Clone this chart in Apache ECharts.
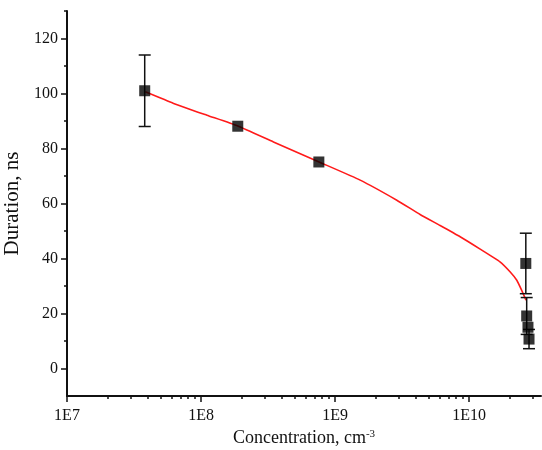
<!DOCTYPE html>
<html>
<head>
<meta charset="utf-8">
<script src="https://cdn.jsdelivr.net/npm/echarts@6/dist/echarts.min.js"></script>
<style>
  html, body { margin: 0; padding: 0; background: #fff; }
  #chart { width: 542px; height: 450px; }
</style>
</head>
<body>
<div id="chart"></div>
<script>
// measured points (concentration, duration, error)
const pointX = [3.8e7, 1.88e8, 7.57e8, 2.65e10, 2.69e10, 2.75e10, 2.80e10]
const pointY = [101, 88.1, 75.1, 38.2, 19.1, 15.0, 10.7]
const pointErr = [13, 0, 0, 11, 6.7, 0, 3.5]

// fitted curve
const fitX = [3.84e7, 6.24e7, 1.107e8, 1.88e8, 3.47e8, 7.6e8, 1.54e9, 2.89e9, 4.31e9, 6.08e9, 8.58e9, 1.21e10, 1.70e10, 2.02e10, 2.27e10, 2.47e10, 2.66e10]
const fitY = [100.6, 96.4, 92.1, 88.2, 82.4, 75.1, 68.5, 61.2, 56.0, 52.0, 47.9, 43.4, 38.8, 35.2, 32.1, 28.4, 24.8]

// axis ticks
const xMajor = [1e7, 1e8, 1e9, 1e10]
const xMinor = []
for (let e = 7; e <= 10; e++) {
  for (let k = 2; k <= 9; k++) {
    if (k * Math.pow(10, e) <= 3.44e10) xMinor.push(k * Math.pow(10, e))
  }
}
const yMajor = [0, 20, 40, 60, 80, 100, 120]
const yMinor = [10, 30, 50, 70, 90, 110, 130]

const font = "'Liberation Serif', 'Times New Roman', serif"
const black = '#111'

let chart = echarts.init(document.getElementById('chart'))

let points = pointX.map((x, i) => [x, pointY[i], pointErr[i]])
let fit = fitX.map((x, i) => [x, fitY[i]])

let xBase = {
  type: 'log',
  logBase: 10,
  min: 1e7,
  max: 3.44e10,
  position: 'bottom',
  splitLine: { show: false },
  axisLine: { onZero: false }
}
let yBase = {
  type: 'value',
  min: -10,
  max: 130,
  position: 'left',
  splitLine: { show: false },
  axisLine: { onZero: false }
}

let option = {
  animation: false,
  grid: { left: 67, right: 1, top: 11, bottom: 54, outerBoundsMode: 'none', containLabel: false },
  xAxis: [
    Object.assign({}, xBase, {
      name: '{a|Concentration, cm}{b|-3}',
      nameLocation: 'middle',
      nameGap: 28,
      nameTextStyle: {
        rich: {
          a: { fontFamily: font, fontSize: 18, color: black },
          b: { fontFamily: font, fontSize: 11, color: black, verticalAlign: 'top', padding: [0, 0, 8, 0] }
        }
      },
      axisLine: { onZero: false, lineStyle: { color: black, width: 2 } },
      axisTick: { show: true, length: 6, inside: false, customValues: xMajor, lineStyle: { color: black, width: 1.5 } },
      axisLabel: {
        customValues: xMajor,
        fontFamily: font, fontSize: 16, color: black, margin: 12,
        formatter: v => '1E' + Math.round(Math.log10(v))
      }
    }),
    Object.assign({}, xBase, {
      axisLine: { show: false, onZero: false },
      axisTick: { show: true, length: 3, customValues: xMinor, lineStyle: { color: black, width: 1.5 } },
      axisLabel: { show: false }
    })
  ],
  yAxis: [
    Object.assign({}, yBase, {
      name: 'Duration, ns',
      nameLocation: 'middle',
      nameGap: 38,
      nameTextStyle: { fontFamily: font, fontSize: 21, color: black },
      axisLine: { onZero: false, lineStyle: { color: black, width: 2 } },
      axisTick: { show: true, length: 6, customValues: yMajor, lineStyle: { color: black, width: 1.5 } },
      axisLabel: { customValues: yMajor, fontFamily: font, fontSize: 16, color: black, margin: 9 }
    }),
    Object.assign({}, yBase, {
      axisLine: { show: false, onZero: false },
      axisTick: { show: true, length: 3, customValues: yMinor, lineStyle: { color: black, width: 1.5 } },
      axisLabel: { show: false }
    })
  ],
  series: [
    {
      name: 'fit',
      type: 'line',
      data: fit,
      smooth: 0.15,
      showSymbol: false,
      lineStyle: { color: '#ff1a1a', width: 1.6 },
      z: 3
    },
    {
      name: 'error',
      type: 'custom',
      data: points.filter(p => p[2] > 0),
      renderItem: function (params, api) {
        let x = api.value(0)
        let y = api.value(1)
        let e = api.value(2)
        let top = api.coord([x, y + e])
        let bot = api.coord([x, y - e])
        let hw = 6
        let style = { stroke: black, lineWidth: 1.5 }
        return {
          type: 'group',
          children: [
            { type: 'line', shape: { x1: top[0], y1: top[1], x2: bot[0], y2: bot[1] }, style: style },
            { type: 'line', shape: { x1: top[0] - hw, y1: top[1], x2: top[0] + hw, y2: top[1] }, style: style },
            { type: 'line', shape: { x1: bot[0] - hw, y1: bot[1], x2: bot[0] + hw, y2: bot[1] }, style: style }
          ]
        }
      },
      z: 4
    },
    {
      name: 'data',
      type: 'scatter',
      data: points.map(p => [p[0], p[1]]),
      symbol: 'rect',
      symbolSize: 11,
      itemStyle: { color: '#000' },
      z: 5
    }
  ]
}
chart.setOption(option)
</script>
</body>
</html>
